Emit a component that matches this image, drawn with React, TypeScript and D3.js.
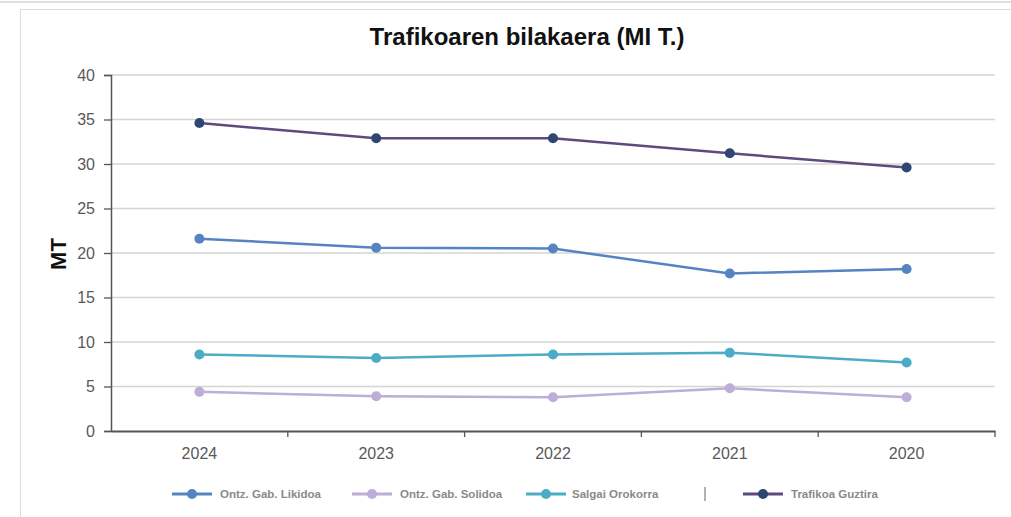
import { useEffect, useRef } from 'react';
import * as d3 from 'd3';

// chart data
const years = ['2024', '2023', '2022', '2021', '2020'];
const likidoa = [21.6, 20.6, 20.5, 17.7, 18.2];
const solidoa = [4.4, 3.9, 3.8, 4.8, 3.8];
const salgai = [8.6, 8.2, 8.6, 8.8, 7.7];
const guztira = [34.6, 32.9, 32.9, 31.2, 29.6];
const yTicks = [0, 5, 10, 15, 20, 25, 30, 35, 40];

const seriesNames = ['Ontz. Gab. Likidoa', 'Ontz. Gab. Solidoa', 'Salgai Orokorra', 'Trafikoa Guztira'];
const seriesValues = [likidoa, solidoa, salgai, guztira];
const lineColors = ['#5683c2', '#bcaed6', '#4bacc6', '#5f4a7d'];
const dotColors = ['#5683c2', '#bcaed6', '#4bacc6', '#2f4572'];

const W = 1011;
const H = 517;
const plot = { left: 111, right: 995, top: 75, bottom: 431 };
const font = '"Liberation Sans", Arial, sans-serif';

const App = () => {
  const ref = useRef<SVGSVGElement>(null);

  useEffect(() => {
    const svg = d3.select(ref.current);
    svg.selectAll('*').remove();

    const x = d3.scaleBand().domain(years).range([plot.left, plot.right]);
    const y = d3.scaleLinear().domain([0, 40]).range([plot.bottom, plot.top]);

    // frame
    svg.append('line').attr('x1', 0).attr('x2', W).attr('y1', 2).attr('y2', 2)
      .attr('stroke', '#dedede').attr('stroke-width', 2);
    svg.append('rect').attr('x', 20.5).attr('y', 9.5).attr('width', W).attr('height', H)
      .attr('fill', '#fff').attr('stroke', '#dcdcdc');

    // title
    svg.append('text').attr('x', 527).attr('y', 45).attr('text-anchor', 'middle')
      .attr('font-family', font).attr('font-size', 24).attr('font-weight', 'bold')
      .attr('fill', '#111').text('Trafikoaren bilakaera (MI T.)');

    // grid
    svg.append('g').selectAll('line').data(yTicks.filter((t) => t > 0)).join('line')
      .attr('x1', plot.left).attr('x2', plot.right)
      .attr('y1', (d) => y(d)).attr('y2', (d) => y(d))
      .attr('stroke', '#d4d4d4').attr('stroke-width', 1.3);

    // y axis
    const ya = svg.append('g').attr('transform', `translate(${plot.left},0)`)
      .call(d3.axisLeft(y).tickValues(yTicks).tickSize(7).tickPadding(9));
    ya.select('.domain').attr('stroke', '#555').attr('stroke-width', 1.5);
    ya.selectAll('.tick line').attr('stroke', '#555').attr('stroke-width', 1.3);
    ya.selectAll('.tick text').attr('font-family', font).attr('font-size', 16).attr('fill', '#595959');

    // x axis, ticks on the band edges
    const xa = svg.append('g').attr('transform', `translate(0,${plot.bottom})`)
      .call(d3.axisBottom(x).tickSize(0).tickPadding(17));
    xa.select('.domain').attr('stroke', '#555').attr('stroke-width', 2);
    xa.selectAll('.tick text').attr('font-family', font).attr('font-size', 16).attr('fill', '#595959');
    const edges = years.map((yr) => (x(yr) as number) + x.bandwidth());
    xa.selectAll('.edge').data(edges).join('line').attr('class', 'edge')
      .attr('x1', (d) => d).attr('x2', (d) => d).attr('y1', 0).attr('y2', 6)
      .attr('stroke', '#555').attr('stroke-width', 1.3);

    // axis title
    svg.append('text').attr('transform', 'translate(66,254) rotate(-90)')
      .attr('text-anchor', 'middle').attr('font-family', font).attr('font-size', 22)
      .attr('font-weight', 'bold').attr('fill', '#111').text('MT');

    const cx = (i: number) => (x(years[i]) as number) + x.bandwidth() / 2;
    const line = d3.line<number>().x((_, i) => cx(i)).y((d) => y(d));

    seriesValues.forEach((vals, s) => {
      const g = svg.append('g');
      g.append('path').attr('d', line(vals)).attr('fill', 'none')
        .attr('stroke', lineColors[s]).attr('stroke-width', 2.5);
      g.selectAll('circle').data(vals).join('circle')
        .attr('cx', (_, i) => cx(i)).attr('cy', (d) => y(d)).attr('r', 5)
        .attr('fill', dotColors[s]);
    });

    // legend
    const legX = [172, 352, 526, 743];
    const legend = svg.append('g').attr('transform', 'translate(0,494)');
    seriesNames.forEach((name, s) => {
      const g = legend.append('g').attr('transform', `translate(${legX[s]},0)`);
      g.append('line').attr('x1', 0).attr('x2', 40).attr('stroke', lineColors[s]).attr('stroke-width', 3);
      g.append('circle').attr('cx', 20).attr('r', 5).attr('fill', dotColors[s]);
      g.append('text').attr('x', s === 2 ? 46 : 48).attr('y', 4).attr('font-family', font)
        .attr('font-size', 11.5).attr('font-weight', 'bold').attr('fill', '#8a8a8a').text(name);
    });
    legend.append('line').attr('x1', 705).attr('x2', 705).attr('y1', -7).attr('y2', 7)
      .attr('stroke', '#666').attr('stroke-width', 1);
  }, []);

  return (
    <svg ref={ref} width={W} height={H} style={{ position: 'absolute', left: 0, top: 0, background: '#fff' }} />
  );
};

export default App;
